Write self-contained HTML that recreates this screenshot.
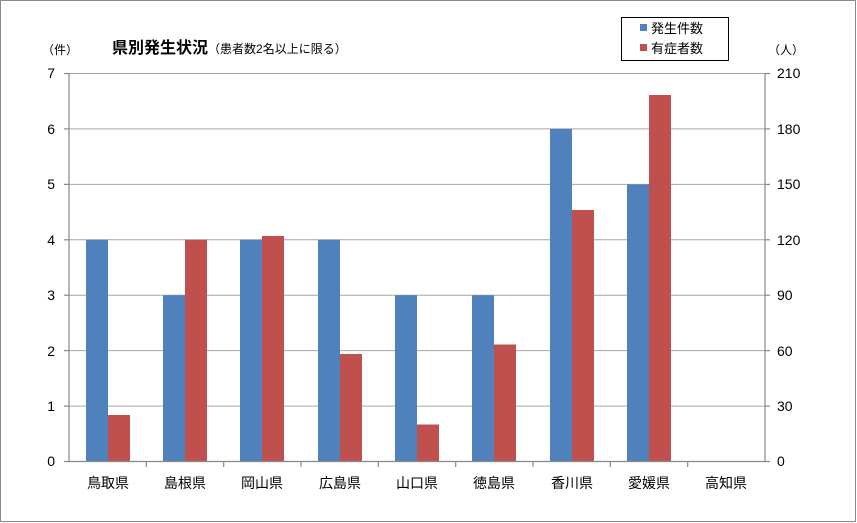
<!DOCTYPE html>
<html><head><meta charset="utf-8"><style>
body{margin:0;background:#fff}
svg{display:block;font-family:"Liberation Sans","Noto Sans CJK JP",sans-serif}
</style></head><body>
<svg width="857" height="523" viewBox="0 0 857 523">
<rect x="0.5" y="0.5" width="855" height="521" fill="#fff" stroke="#888" stroke-width="1"/>
<g stroke="#a6a6a6" stroke-width="1">
<line x1="69" y1="73.5" x2="765" y2="73.5"/>
<line x1="69" y1="128.9" x2="765" y2="128.9"/>
<line x1="69" y1="184.4" x2="765" y2="184.4"/>
<line x1="69" y1="239.8" x2="765" y2="239.8"/>
<line x1="69" y1="295.2" x2="765" y2="295.2"/>
<line x1="69" y1="350.6" x2="765" y2="350.6"/>
<line x1="69" y1="406.1" x2="765" y2="406.1"/>
</g>
<g id="bars">
<rect x="86" y="239.8" width="22" height="221.7" fill="#4f81bd"/>
<rect x="108" y="415" width="22" height="46.5" fill="#c0504d"/>
<rect x="163" y="295.2" width="22" height="166.3" fill="#4f81bd"/>
<rect x="185" y="239.8" width="22" height="221.7" fill="#c0504d"/>
<rect x="240" y="239.8" width="22" height="221.7" fill="#4f81bd"/>
<rect x="262" y="236" width="22" height="225.5" fill="#c0504d"/>
<rect x="318" y="239.8" width="22" height="221.7" fill="#4f81bd"/>
<rect x="340" y="354" width="22" height="107.5" fill="#c0504d"/>
<rect x="395" y="295.2" width="22" height="166.3" fill="#4f81bd"/>
<rect x="417" y="424.5" width="22" height="37" fill="#c0504d"/>
<rect x="472" y="295.2" width="22" height="166.3" fill="#4f81bd"/>
<rect x="494" y="344.5" width="22" height="117" fill="#c0504d"/>
<rect x="550" y="128.9" width="22" height="332.6" fill="#4f81bd"/>
<rect x="572" y="210" width="22" height="251.5" fill="#c0504d"/>
<rect x="627" y="184.4" width="22" height="277.1" fill="#4f81bd"/>
<rect x="649" y="95" width="22" height="366.5" fill="#c0504d"/>
</g>
<g stroke="#888" stroke-width="1.2">
<line x1="69" y1="73" x2="69" y2="462"/>
<line x1="765" y1="73" x2="765" y2="462"/>
<line x1="64" y1="461.5" x2="770" y2="461.5"/>
<line x1="64" y1="73.5" x2="69" y2="73.5"/><line x1="64" y1="128.9" x2="69" y2="128.9"/><line x1="64" y1="184.4" x2="69" y2="184.4"/><line x1="64" y1="239.8" x2="69" y2="239.8"/><line x1="64" y1="295.2" x2="69" y2="295.2"/><line x1="64" y1="350.6" x2="69" y2="350.6"/><line x1="64" y1="406.1" x2="69" y2="406.1"/>
<line x1="765" y1="73.5" x2="770" y2="73.5"/><line x1="765" y1="128.9" x2="770" y2="128.9"/><line x1="765" y1="184.4" x2="770" y2="184.4"/><line x1="765" y1="239.8" x2="770" y2="239.8"/><line x1="765" y1="295.2" x2="770" y2="295.2"/><line x1="765" y1="350.6" x2="770" y2="350.6"/><line x1="765" y1="406.1" x2="770" y2="406.1"/>
<line x1="146.3" y1="461" x2="146.3" y2="467"/><line x1="223.7" y1="461" x2="223.7" y2="467"/><line x1="301" y1="461" x2="301" y2="467"/><line x1="378.3" y1="461" x2="378.3" y2="467"/><line x1="455.7" y1="461" x2="455.7" y2="467"/><line x1="533" y1="461" x2="533" y2="467"/><line x1="610.3" y1="461" x2="610.3" y2="467"/><line x1="687.7" y1="461" x2="687.7" y2="467"/>
</g>
<g font-size="14" fill="#000" text-anchor="end">
<text x="55" y="78">7</text><text x="55" y="134">6</text><text x="55" y="189">5</text><text x="55" y="245">4</text><text x="55" y="300">3</text><text x="55" y="356">2</text><text x="55" y="411">1</text><text x="55" y="466">0</text>
</g>
<g font-size="14" fill="#000" text-anchor="start">
<text x="777" y="78">210</text><text x="777" y="134">180</text><text x="777" y="189">150</text><text x="777" y="245">120</text><text x="777" y="300">90</text><text x="777" y="356">60</text><text x="777" y="411">30</text><text x="777" y="466">0</text>
</g>
<g font-size="14" fill="#000" text-anchor="middle">
<text x="108" y="488">鳥取県</text><text x="185" y="488">島根県</text><text x="262" y="488">岡山県</text><text x="340" y="488">広島県</text><text x="417" y="488">山口県</text><text x="494" y="488">徳島県</text><text x="572" y="488">香川県</text><text x="649" y="488">愛媛県</text><text x="726" y="488">高知県</text>
</g>
<text x="42" y="54" font-size="12">（件）</text>
<text x="768" y="54" font-size="12">（人）</text>
<text x="112" y="53" font-size="16" font-weight="bold">県別発生状況<tspan font-size="12" font-weight="normal">（患者数2名以上に限る）</tspan></text>
<rect x="621.5" y="17.5" width="107" height="43" fill="#fff" stroke="#000" stroke-width="1"/>
<rect x="640" y="24" width="7" height="7" fill="#4f81bd"/>
<text x="651" y="33" font-size="13">発生件数</text>
<rect x="640" y="44" width="7" height="7" fill="#c0504d"/>
<text x="651" y="53" font-size="13">有症者数</text>
</svg>
</body></html>
